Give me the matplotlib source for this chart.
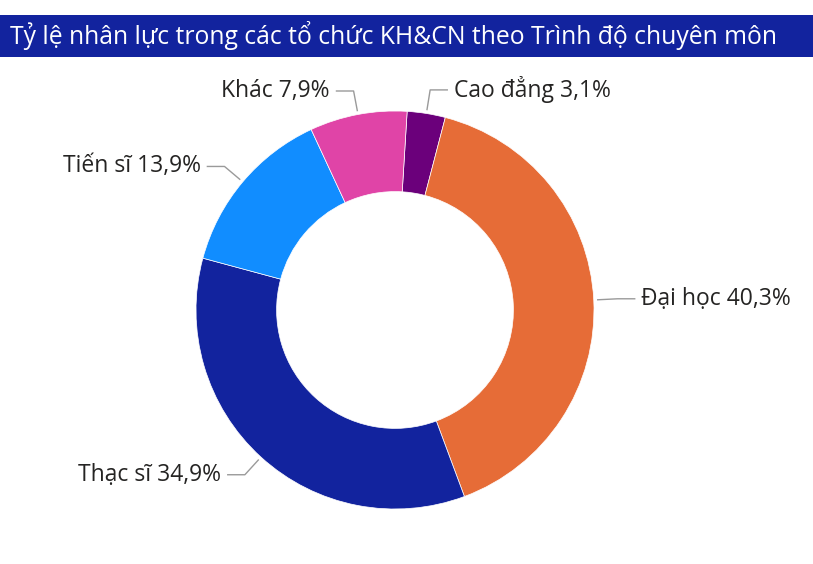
import numpy as np
import matplotlib
matplotlib.use('Agg')
import matplotlib.pyplot as plt
from matplotlib.patches import Rectangle

# data
categories = ['Cao đẳng', 'Đại học', 'Thạc sĩ', 'Tiến sĩ', 'Khác']
shares = [3.1, 40.3, 34.9, 13.9, 7.9]
colors = ['#6B007B', '#E66C37', '#12239E', '#118DFF', '#E044A7']
title = 'Tỷ lệ nhân lực trong các tổ chức KH&CN theo Trình độ chuyên môn'

plt.rcParams['font.family'] = ['Open Sans', 'DejaVu Sans']

W, H = 813, 564
fig = plt.figure(figsize=(W / 100, H / 100), dpi=100)

# title bar
bar = Rectangle((0, 1 - 57 / H), 1, 42 / H, transform=fig.transFigure,
                facecolor='#12239E', edgecolor='none')
fig.patches.append(bar)
fig.text(10 / W, 1 - 36 / H, title, color='white', fontsize=17.8,
         ha='left', va='center')

# donut axes: center (395, 310), radius 199 px
R = 199
cx, cy = 395, 310
ax = fig.add_axes([(cx - R) / W, (H - cy - R) / H, 2 * R / W, 2 * R / H])

start = 86.5
wedges, _ = ax.pie(shares, colors=colors, startangle=start, counterclock=False,
                   radius=1, wedgeprops=dict(width=0.405, edgecolor='white', linewidth=0.5))
ax.set_xlim(-1, 1)
ax.set_ylim(-1, 1)
ax.set_aspect('equal')
ax.axis('off')

line_col = '#9a9a9a'
text_col = '#252423'
for w, name, val in zip(wedges, categories, shares):
    mid = np.deg2rad((w.theta1 + w.theta2) / 2)
    x0, y0 = 1.02 * np.cos(mid), 1.02 * np.sin(mid)
    x1, y1 = 1.12 * np.cos(mid), 1.12 * np.sin(mid)
    side = 1 if x1 >= 0 else -1
    x2 = x1 + side * 0.086
    ax.plot([x0, x1, x2], [y0, y1, y1], color=line_col, lw=1, clip_on=False)
    label = f'{name} {val:.1f}%'.replace('.', ',')
    ax.text(x2 + side * 0.033, y1, label, ha='left' if side > 0 else 'right',
            va='center', fontsize=16.5, color=text_col)

fig.savefig('out.png', dpi=100)
